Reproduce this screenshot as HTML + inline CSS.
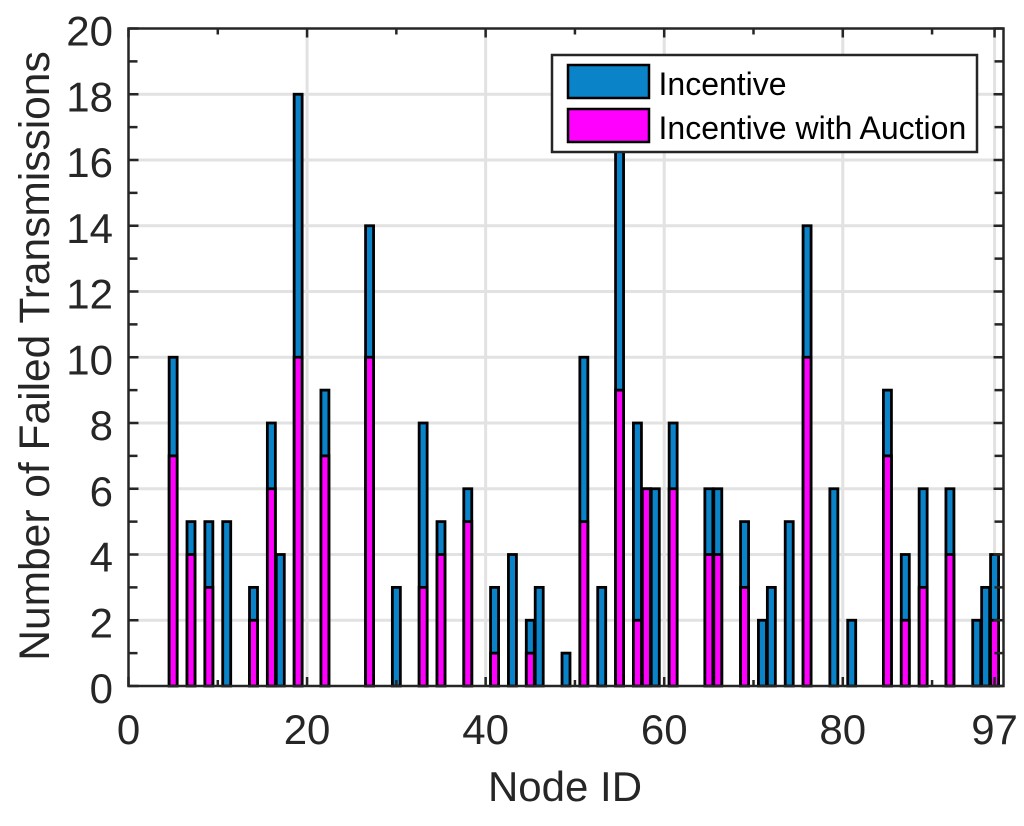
<!DOCTYPE html>
<html>
<head>
<meta charset="utf-8">
<title>Number of Failed Transmissions per Node</title>
<style>
html,body{margin:0;padding:0;background:#fff;width:1024px;height:826px;overflow:hidden}
svg{display:block}
text{font-family:"Liberation Sans",sans-serif}
</style>
</head>
<body>
<svg id="chart" xmlns="http://www.w3.org/2000/svg" width="1024" height="826" viewBox="0 0 1024 826">
  <rect x="0" y="0" width="1024" height="826" fill="#ffffff"/>
  <g id="grid"></g>
  <g id="bars"></g>
  <g id="axes"></g>
  <text transform="translate(49,356) rotate(-90)" text-anchor="middle" font-size="42.5" fill="#262626">Number of Failed Transmissions</text>
  <text x="565" y="801" text-anchor="middle" font-size="42" fill="#262626">Node ID</text>
  <g>
    <rect x="552" y="55" width="425" height="97" fill="#ffffff" stroke="#262626" stroke-width="2.5"/>
    <rect x="568" y="65" width="81" height="33" fill="#0a83c9" stroke="#000000" stroke-width="2.5"/>
    <text x="658.5" y="95" font-size="32" fill="#000000">Incentive</text>
    <rect x="568" y="109" width="81" height="33" fill="#ff00ff" stroke="#000000" stroke-width="2.5"/>
    <text x="658.5" y="139" font-size="32" fill="#000000">Incentive with Auction</text>
  </g>
</svg>
<script>
const nodeIds = [5,7,9,11,14,16,17,19,22,27,30,33,35,38,41,43,45,46,49,51,53,55,57,58,59,61,65,66,69,71,72,74,76,79,81,85,87,89,92,95,96,97];
const incentiveValues = [10,5,5,5,3,8,4,18,9,14,3,8,5,6,3,4,2,3,1,10,3,18,8,6,6,8,6,6,5,2,3,5,14,6,2,9,4,6,6,2,3,4];
const auctionValues = [7,4,3,0,2,6,0,10,7,10,0,3,4,5,1,0,1,0,0,5,0,9,2,6,0,6,4,4,3,0,0,0,10,0,0,7,2,3,4,0,0,2];
const xTickLabels = [0,20,40,60,80,97];
const xMinorTicks = [10,30,50,70,90];
const yTickLabels = [0,2,4,6,8,10,12,14,16,18,20];
const yMinorTicks = [1,3,5,7,9,11,13,15,17,19];

const NS = 'http://www.w3.org/2000/svg';
const plot = {left:128.5, right:1003.5, top:28.5, bottom:686};
const xDomain = [0,98];
const yDomain = [0,20];
function xScale(v){return plot.left + (v - xDomain[0]) / (xDomain[1] - xDomain[0]) * (plot.right - plot.left);}
function yScale(v){return plot.bottom - (v - yDomain[0]) / (yDomain[1] - yDomain[0]) * (plot.bottom - plot.top);}
function make(tag, attrs, parent){
  const el = document.createElementNS(NS, tag);
  for (const k in attrs) el.setAttribute(k, attrs[k]);
  parent.appendChild(el);
  return el;
}
const gridG = document.getElementById('grid');
const barsG = document.getElementById('bars');
const axesG = document.getElementById('axes');
const GRID = {stroke:'#e2e2e2','stroke-width':3};
const AXIS = {stroke:'#262626','stroke-width':2.5};

xTickLabels.slice(1).forEach(function(t){
  const x = xScale(t);
  const el = make('line', Object.assign({x1:x,x2:x,y1:plot.top,y2:plot.bottom}, GRID), gridG);
  
  
});
yTickLabels.slice(1,-1).forEach(function(t){
  const y = yScale(t);
  const el = make('line', Object.assign({x1:plot.left,x2:plot.right,y1:y,y2:y}, GRID), gridG);
  
  
});

const barW = 8;
nodeIds.forEach(function(id, i){
  const cx = xScale(id);
  const total = make('rect', {x:cx-barW/2, y:yScale(incentiveValues[i]), width:barW, height:yScale(0)-yScale(incentiveValues[i]), fill:'#0a83c9', stroke:'#000', 'stroke-width':2.8}, barsG);
  
  
  if (auctionValues[i] > 0) {
    const part = make('rect', {x:cx-barW/2, y:yScale(auctionValues[i]), width:barW, height:yScale(0)-yScale(auctionValues[i]), fill:'#ff00ff', stroke:'#000', 'stroke-width':2.8}, barsG);
    
    
  }
});

function xTick(v, len){
  const x = xScale(v);
  const a = make('line', Object.assign({x1:x,x2:x,y1:plot.bottom,y2:plot.bottom-len}, AXIS), axesG);
  
  
  const b = make('line', Object.assign({x1:x,x2:x,y1:plot.top,y2:plot.top+len}, AXIS), axesG);
  
  
}
function yTick(v, len){
  const y = yScale(v);
  const a = make('line', Object.assign({x1:plot.left,x2:plot.left+len,y1:y,y2:y}, AXIS), axesG);
  
  
  const b = make('line', Object.assign({x1:plot.right,x2:plot.right-len,y1:y,y2:y}, AXIS), axesG);
  
  
}
xTickLabels.forEach(function(t){xTick(t, 9);});
xMinorTicks.forEach(function(t){xTick(t, 6);});
yTickLabels.forEach(function(t){yTick(t, 10);});
yMinorTicks.forEach(function(t){yTick(t, 9);});

xTickLabels.forEach(function(t){
  const el = make('text', {x:xScale(t), y:744, 'text-anchor':'middle', 'font-size':42, fill:'#262626'}, axesG);
  el.textContent = t;
  
  
});
yTickLabels.forEach(function(t){
  const el = make('text', {x:113, y:yScale(t)+17, 'text-anchor':'end', 'font-size':42, fill:'#262626'}, axesG);
  el.textContent = t;
  
  
});
const frame = make('rect', {x:plot.left, y:plot.top, width:plot.right-plot.left, height:plot.bottom-plot.top, fill:'none', stroke:'#262626', 'stroke-width':2.5}, axesG);


</script>
</body>
</html>
